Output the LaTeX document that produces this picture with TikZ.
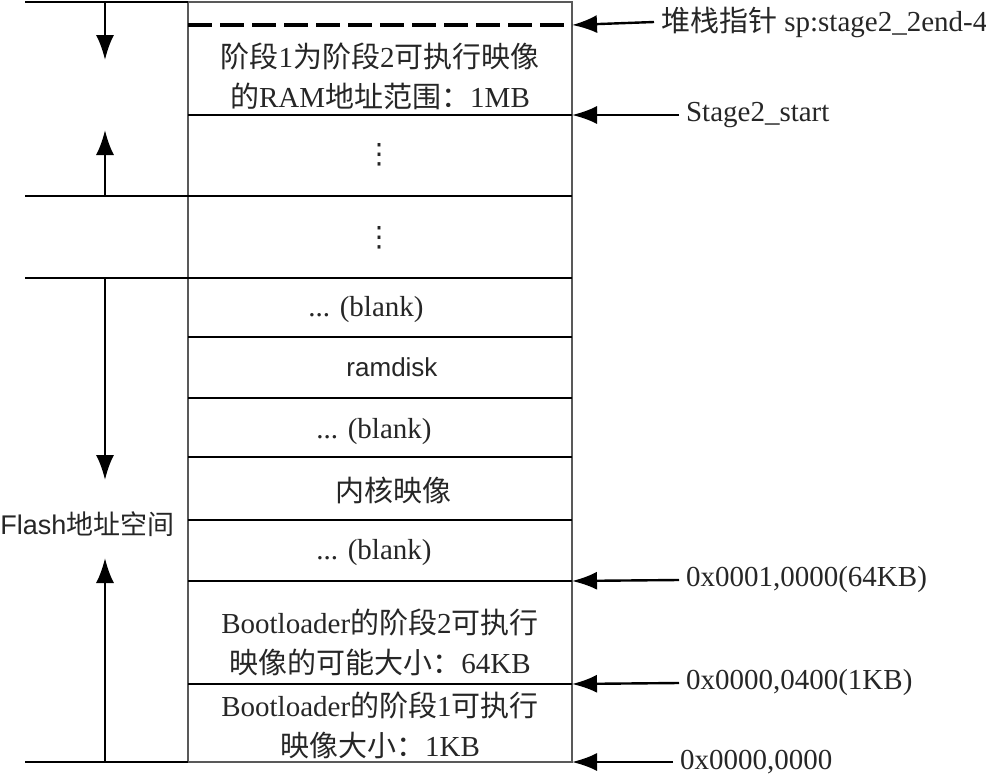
\documentclass[tikz,border=0pt]{standalone}
\usepackage{fontspec}
\setmainfont{Liberation Serif}
\setsansfont{Liberation Sans}
\newfontfamily\cjk{Noto Sans CJK SC}
\newfontfamily\symfont{DejaVu Sans}
\usetikzlibrary{arrows.meta}

\newcommand{\zh}[1]{{\cjk #1}}

\begin{document}
\begin{tikzpicture}[x=0.5pt, y=-0.5pt,
        sep/.style={line width=1.4pt},
        ptr/.style={-{Latex[length=12.5pt,width=9pt]}, line width=1.2pt},
        lbl/.style={font=\fontsize{14.5}{20}\selectfont, text=black!85, align=center},
        addr/.style={lbl, anchor=west}]
    \useasboundingbox (0,0) rectangle (986,776);

    % memory block and its rows
    \draw[line width=0.8pt, black!65] (188,2) rectangle (572,762);
    \draw[line width=1.6pt, dash pattern=on 12pt off 4pt] (188,25) -- (572,25);
    \draw[sep] (188,115) -- (572,115);
    \draw[sep] (25,196) -- (572,196);
    \draw[sep] (25,278) -- (572,278);
    \foreach \y in {337,398,457,520,581,684}
        \draw[sep] (188,\y) -- (572,\y);
    \draw[sep] (25,2) -- (188,2);
    \draw[sep] (25,762) -- (188,762);

    \node[lbl] (ramimg) at (380,76) {\zh{阶段}1\zh{为阶段}2\zh{可执行映像}\\\zh{的}RAM\zh{地址范围：}1MB};
    \node[lbl, font=\symfont\fontsize{14}{16}\selectfont] (dots1) at (379,155) {⋮};
    \node[lbl, font=\symfont\fontsize{14}{16}\selectfont] (dots2) at (379,238) {⋮};
    \node[lbl] (blank1) at (366,310) {... (blank)};
    \node[lbl, font=\sffamily\fontsize{13}{16}\selectfont] (ramdisk) at (392,367) {ramdisk};
    \node[lbl] (blank2) at (374,432) {... (blank)};
    \node[lbl] (kernel) at (393,490) {\zh{内核映像}};
    \node[lbl] (blank3) at (374,553) {... (blank)};
    \node[lbl] (stage2) at (380,642) {Bootloader\zh{的阶段}2\zh{可执行}\\\zh{映像的可能大小：}64KB};
    \node[lbl] (stage1) at (380,725) {Bootloader\zh{的阶段}1\zh{可执行}\\\zh{映像大小：}1KB};

    % addresses on the right
    \coordinate (spend) at (572,25);
    \coordinate (s2end) at (572,115);
    \coordinate (k64end) at (572,581);
    \coordinate (k1end) at (572,684);
    \coordinate (zeroend) at (572,762);
    \node[addr] (sp) at (654,22) {\zh{堆栈指针} sp:stage2\_2end-4};
    \node[addr] (s2start) at (679,115) {Stage2\_start};
    \node[addr] (k64) at (679,580) {0x0001,0000(64KB)};
    \node[addr] (k1) at (679,683) {0x0000,0400(1KB)};
    \node[addr] (zero) at (673,762) {0x0000,0000};
    \draw[ptr] (sp.west) -- (spend);
    \draw[ptr] (s2start.west) -- (s2end);
    \draw[ptr] (k64.west) -- (k64end);
    \draw[ptr] (k1.west) -- (k1end);
    \draw[ptr] (zero.west) -- (zeroend);

    % growth arrows on the left
    \node[anchor=west, inner sep=0pt, font=\sffamily\fontsize{13.5}{16}\selectfont, text=black!85] (flash) at (0,524) {Flash\zh{地址空间}};
    \coordinate (ramtop) at (105,2);
    \coordinate (ramdown) at (105,60);
    \coordinate (ramlow) at (105,196);
    \coordinate (ramup) at (105,130);
    \coordinate (flashtop) at (105,278);
    \coordinate (flashdown) at (105,480);
    \coordinate (flashlow) at (105,762);
    \coordinate (flashup) at (105,558);
    \draw[ptr] (ramtop) -- (ramdown);
    \draw[ptr] (ramlow) -- (ramup);
    \draw[ptr] (flashtop) -- (flashdown);
    \draw[ptr] (flashlow) -- (flashup);
\end{tikzpicture}
\end{document}
